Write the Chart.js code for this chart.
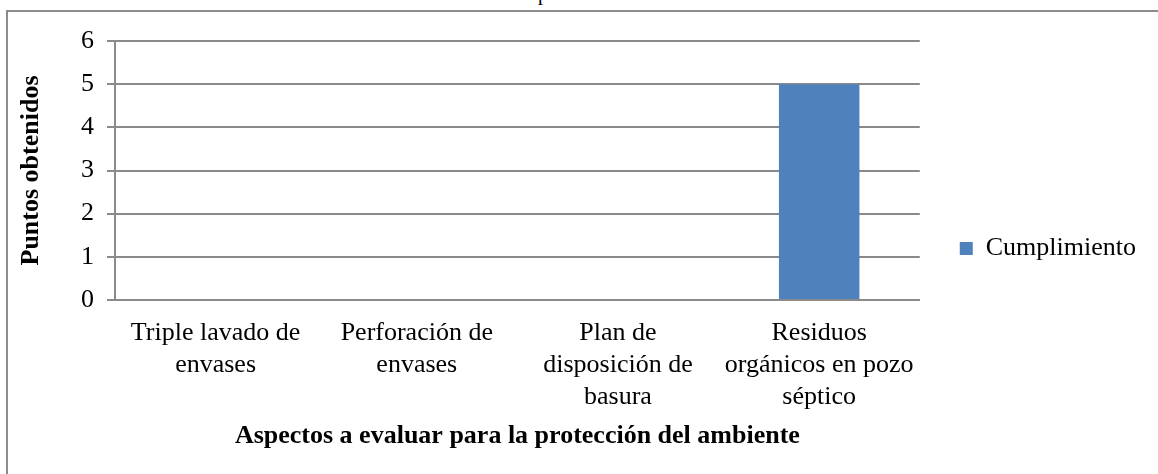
<!DOCTYPE html>
<html lang="es">
<head>
  <meta charset="UTF-8" />
  <title>Evaluación de la protección del ambiente</title>
  <script src="https://cdn.jsdelivr.net/npm/chart.js"></script>
  <style>
    html, body { margin: 0; padding: 0; background: #fff; overflow: hidden; }
    #frame { position: absolute; left: 6px; top: 10px; width: 1160px; height: 470px;
             border-left: 2px solid #8c8c8c; border-top: 2px solid #8c8c8c; }
    #cut-title { position: absolute; top: -17px; left: 0; width: 1034px; text-align: center;
                 font: 20px "Liberation Serif", serif; line-height: 20px; color: #000; }
    #wrap { position: absolute; left: 0; top: 0; width: 1158px; height: 474px; }
  </style>
</head>
<body>
  <div id="cut-title">Gráfico 17. Evaluación de la protección del ambiente</div>
  <div id="frame"></div>
  <div id="wrap"><canvas id="chart" width="1158" height="474"></canvas></div>

  <script>
    const categories = [
      ["Triple lavado de", "envases"],
      ["Perforación de", "envases"],
      ["Plan de", "disposición de", "basura"],
      ["Residuos", "orgánicos en pozo", "séptico"]
    ];
    const cumplimiento = [0, 0, 0, 5];
    const yTicks = [0, 1, 2, 3, 4, 5, 6];

    const serif = "'Liberation Serif', 'Times New Roman', serif";
    const gridGray = "#8a8a8a";

    new Chart(document.getElementById("chart"), {
      type: "bar",
      data: {
        labels: categories,
        datasets: [{
          label: "Cumplimiento",
          data: cumplimiento,
          backgroundColor: "#4f81bd",
          borderWidth: 0,
          barPercentage: 0.4,
          categoryPercentage: 1.0
        }]
      },
      options: {
        responsive: false,
        animation: false,
        layout: { padding: { left: 10, top: 41, right: 12, bottom: 18 } },
        plugins: {
          tooltip: { enabled: false },
          legend: {
            position: "right",
            labels: {
              boxWidth: 13,
              boxHeight: 13,
              padding: 40,
              color: "#000",
              font: { family: serif, size: 26 }
            }
          }
        },
        scales: {
          x: {
            grid: { display: false },
            border: { display: true, color: gridGray, width: 2 },
            ticks: {
              autoSkip: false,
              maxRotation: 0,
              color: "#000",
              padding: 9,
              font: { family: serif, size: 26, lineHeight: 1.23 }
            },
            title: {
              display: true,
              text: "Aspectos a evaluar para la protección del ambiente",
              color: "#000",
              font: { family: serif, size: 26, weight: "bold" },
              padding: { top: 0, bottom: 4 }
            },
            afterFit: s => { s.height = 474 - 18 - 300; }
          },
          y: {
            min: 0,
            max: 6,
            afterBuildTicks: s => { s.ticks = yTicks.map(v => ({ value: v })); },
            grid: { color: gridGray, lineWidth: 2, tickLength: 8 },
            border: { display: true, color: gridGray, width: 2 },
            ticks: {
              color: "#000",
              padding: 13,
              font: { family: serif, size: 26 }
            },
            title: {
              display: true,
              text: "Puntos obtenidos",
              color: "#000",
              font: { family: serif, size: 26, weight: "bold" },
              padding: { top: 6, bottom: 0 }
            },
            afterFit: s => { s.width = 105; }
          }
        }
      }
    });
  </script>
</body>
</html>
